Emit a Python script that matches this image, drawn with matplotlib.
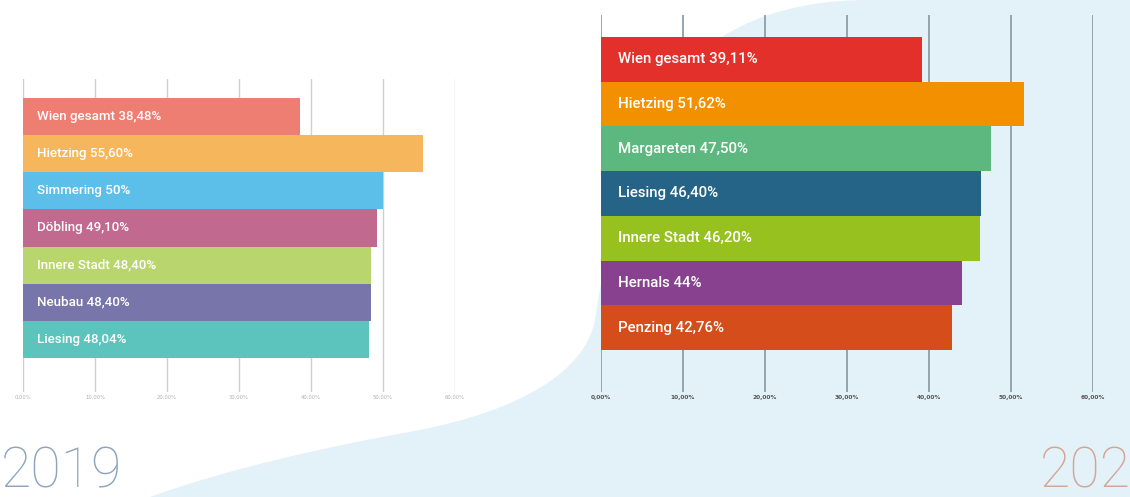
import matplotlib
matplotlib.use("Agg")
import matplotlib.pyplot as plt
from matplotlib.path import Path
from matplotlib.patches import PathPatch

# ---------------- data ----------------
cats_2019 = ["Wien gesamt", "Hietzing", "Simmering", "Döbling", "Innere Stadt", "Neubau", "Liesing"]
vals_2019 = [38.48, 55.60, 50.0, 49.10, 48.40, 48.40, 48.04]
lbls_2019 = ["38,48%", "55,60%", "50%", "49,10%", "48,40%", "48,40%", "48,04%"]
cols_2019 = ["#ee7d72", "#f6b65b", "#5bbfe9", "#c2698f", "#b9d66e", "#7775a9", "#5dc3bd"]

cats_2020 = ["Wien gesamt", "Hietzing", "Margareten", "Liesing", "Innere Stadt", "Hernals", "Penzing"]
vals_2020 = [39.11, 51.62, 47.50, 46.40, 46.20, 44.0, 42.76]
lbls_2020 = ["39,11%", "51,62%", "47,50%", "46,40%", "46,20%", "44%", "42,76%"]
cols_2020 = ["#e3302a", "#f29000", "#5cb87e", "#256486", "#96c11f", "#87418f", "#d44d1a"]

ticks = [0, 10, 20, 30, 40, 50, 60]
tick_labels = ["0,00%", "10,00%", "20,00%", "30,00%", "40,00%", "50,00%", "60,00%"]

W, H = 1130, 497
fig = plt.figure(figsize=(W / 100, H / 100), dpi=100)
fig.patch.set_facecolor("white")

# background blob (pixel coordinates, y from top)
def P(x, y):
    return (x / W, 1 - y / H)

verts = [P(150, 497),
         P(230, 468), P(330, 446), P(420, 430),
         P(520, 410), P(585, 372), P(595, 320),
         P(608, 230), P(640, 100), P(725, 35),
         P(775, 5), P(830, 0), P(870, 0),
         P(1130, 0), P(1130, 497), P(150, 497)]
codes = [Path.MOVETO,
         Path.CURVE4, Path.CURVE4, Path.CURVE4,
         Path.CURVE4, Path.CURVE4, Path.CURVE4,
         Path.CURVE4, Path.CURVE4, Path.CURVE4,
         Path.CURVE4, Path.CURVE4, Path.CURVE4,
         Path.LINETO, Path.LINETO, Path.CLOSEPOLY]
fig.patches.append(PathPatch(Path(verts, codes), transform=fig.transFigure,
                             facecolor="#e3f1f8", edgecolor="none", zorder=-5))


def make_panel(left_px, right_px, top_px, bottom_px, bar_top, bar_bottom,
               cats, vals, lbls, cols, grid_col, grid_lw, lab_size, lab_off,
               tick_col, tick_size, tick_weight):
    ax = fig.add_axes([left_px / W, 1 - bottom_px / H,
                       (right_px - left_px) / W, (bottom_px - top_px) / H])
    ax.set_zorder(2)
    ax.set_facecolor("none")
    n = len(vals)
    unit = (bar_bottom - bar_top) / n
    c_top = bar_top + unit / 2
    c_bot = bar_bottom - unit / 2
    ylo = -(c_top - top_px) / unit
    yhi = (n - 1) + (bottom_px - c_bot) / unit
    ax.set_xlim(0, 60)
    ax.set_ylim(yhi, ylo)
    ypos = list(range(n))
    ax.barh(ypos, vals, height=1.0, color=cols, zorder=3, linewidth=0)
    for t in ticks:
        ax.axvline(t, color=grid_col, lw=grid_lw, zorder=1)
    for i, (c, l) in enumerate(zip(cats, lbls)):
        ax.annotate(f"{c} {l}", xy=(0, i), xytext=(lab_off, 0),
                    textcoords="offset pixels", va="center", ha="left",
                    color="white", fontsize=lab_size, family="Roboto",
                    fontweight="medium", zorder=4)
    ax.set_xticks(ticks)
    ax.set_xticklabels(tick_labels, fontsize=tick_size, color=tick_col,
                       fontweight=tick_weight)
    ax.tick_params(axis="x", length=0, pad=2)
    ax.set_yticks([])
    for s in ax.spines.values():
        s.set_visible(False)
    return ax


make_panel(23, 455, 79, 392, 98, 358, cats_2019, vals_2019, lbls_2019,
           cols_2019, "#cfcfcf", 1.0, 9.6, 14, "#b0b0b0", 3.8, "normal")
make_panel(601, 1093, 15, 392, 37, 350, cats_2020, vals_2020, lbls_2020,
           cols_2020, "#8e9ea8", 1.3, 10.8, 17, "#555555", 4.2, "bold")

fig.text(1 / W, 1 - 488 / H, "2019", fontsize=40, family="Roboto",
         fontweight="light", color="#8ea5bd", ha="left", va="baseline")
fig.text(1040 / W, 1 - 488 / H, "202", fontsize=40, family="Roboto",
         fontweight="light", color="#d3a596", ha="left", va="baseline")

fig.savefig("out.png", dpi=100, facecolor="white")
